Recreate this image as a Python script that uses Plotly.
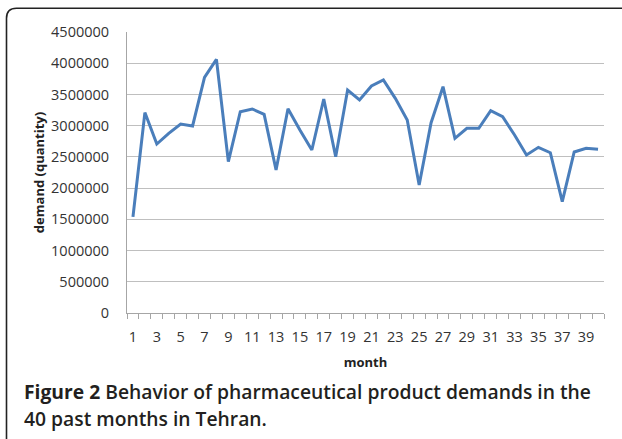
import plotly.graph_objects as go

months = list(range(1, 41))
demand = [1540000, 3210000, 2706000, 2877000, 3027000, 2995000, 3774000, 4062000,
          2423000, 3224000, 3267000, 3181000, 2290000, 3272000, 2930000, 2610000,
          3427000, 2503000, 3571000, 3411000, 3635000, 3731000, 3438000, 3091000,
          2050000, 3048000, 3624000, 2797000, 2957000, 2957000, 3240000, 3144000,
          2850000, 2530000, 2653000, 2567000, 1782000, 2578000, 2637000, 2621000]
x_ticks = list(range(1, 41, 2))
y_ticks = list(range(0, 4500001, 500000))

# plot-area pixel geometry
W, H = 622, 439
L, R, T, B = 127, 604, 32, 313

def px(x):
    return (x - L) / (R - L)

def py(y):
    return (B - y) / (B - T)

fig = go.Figure()
fig.add_trace(go.Scatter(x=months, y=demand, mode="lines",
                         line=dict(color="#4a7ebb", width=3), hoverinfo="skip"))

font_ticks = dict(family="Open Sans", size=14.5, color="#333333")
fig.update_layout(
    width=W, height=H,
    margin=dict(l=L, r=W - R, t=T, b=H - B, pad=0, autoexpand=False),
    paper_bgcolor="white", plot_bgcolor="white",
    showlegend=False,
    xaxis=dict(range=[0.5, 40.5], tickmode="array", tickvals=x_ticks,
               ticktext=[str(v) for v in x_ticks], ticks="", showgrid=False,
               showline=True, linecolor="#a6a6a6", linewidth=1, zeroline=False,
               tickfont=font_ticks, ticklabelstandoff=11, automargin=False,
               minor=dict(tickmode="linear", tick0=0.5, dtick=1, ticks="outside",
                          ticklen=5, tickcolor="#a6a6a6", showgrid=False),
               title=dict(text="<b>month</b>", font=dict(family="Open Sans", size=13, color="#222222"),
                          standoff=12)),
    yaxis=dict(range=[0, 4500000], tickmode="array", tickvals=y_ticks,
               ticktext=[str(v) for v in y_ticks], ticks="", showgrid=True,
               gridcolor="#bfbfbf", gridwidth=1, showline=True, linecolor="#a6a6a6",
               linewidth=1, zeroline=False, tickfont=font_ticks, ticklabelstandoff=14,
               automargin=False,
               title=dict(text="<b>demand (quantity)</b>",
                          font=dict(family="Open Sans", size=13, color="#222222"),
                          standoff=3)),
)

# rounded border frame (bottom edge runs just below the visible page)
x0, x1, y0, y1, r = 6.5, 640, 8.3, 444, 10
path = (f"M {px(x0)} {py(y1)} L {px(x0)} {py(y0 + r)} "
        f"Q {px(x0)} {py(y0)} {px(x0 + r)} {py(y0)} L {px(x1)} {py(y0)}")
fig.add_shape(type="path", xref="paper", yref="paper", path=path,
              line=dict(color="#222222", width=1.6))

cap_font = dict(family="Open Sans", size=19.3, color="#231f20")
fig.add_annotation(xref="paper", yref="paper", x=px(22), y=py(392), xanchor="left",
                   yanchor="middle", showarrow=False, font=cap_font,
                   text="<b>Figure 2</b> <span style='font-weight:600'>Behavior of pharmaceutical product demands in the</span>")
fig.add_annotation(xref="paper", yref="paper", x=px(22), y=py(419), xanchor="left",
                   yanchor="middle", showarrow=False, font=cap_font,
                   text="<span style='font-weight:600'>40 past months in Tehran.</span>")

fig.write_html("out.html", config={"displayModeBar": False},
               post_script="document.body.style.margin='0';document.body.style.overflow='hidden';")
